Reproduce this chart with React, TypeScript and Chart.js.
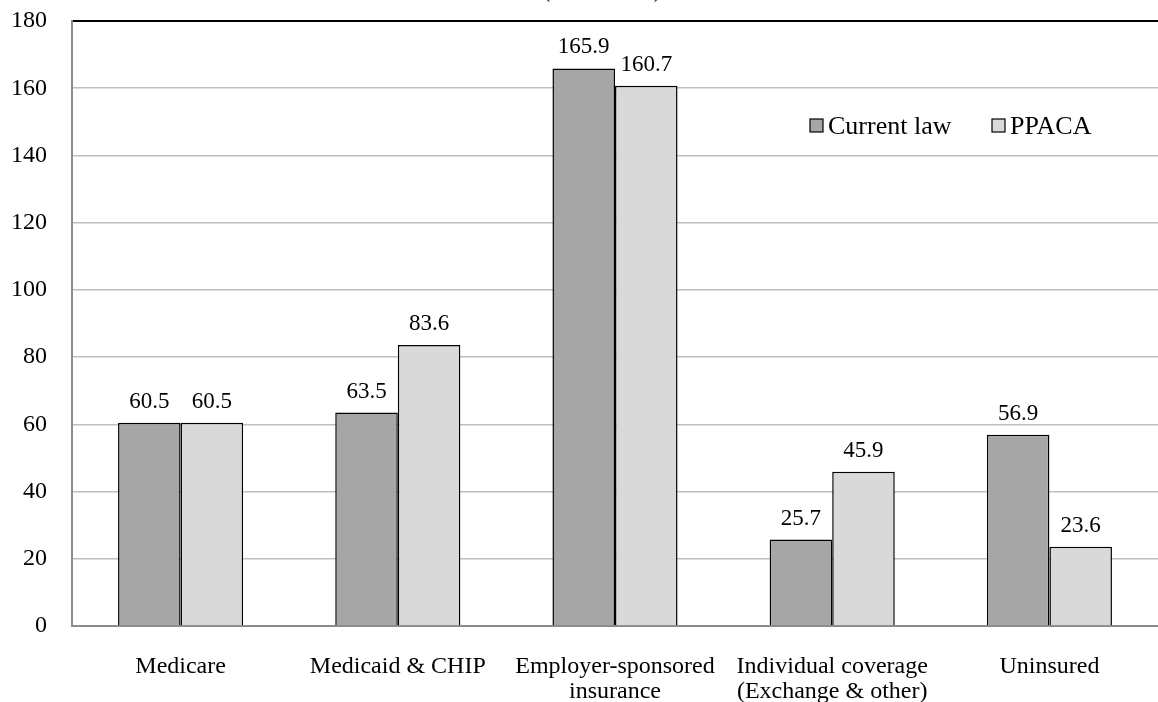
import React, { useEffect, useRef } from "react";
import { Chart, registerables } from "chart.js";

Chart.register(...registerables);

const categories: (string | string[])[] = [
  "Medicare",
  "Medicaid & CHIP",
  ["Employer-sponsored", "insurance"],
  ["Individual coverage", "(Exchange & other)"],
  "Uninsured",
];
const currentLaw = [60.5, 63.5, 165.9, 25.7, 56.9];
const ppaca = [60.5, 83.6, 160.7, 45.9, 23.6];
const seriesNames = ["Current law", "PPACA"];
const titleText = "(in millions)";

const FONT = "'Liberation Serif', 'Times New Roman', serif";

const overlayPlugin = {
  id: "overlay",
  afterDatasetsDraw(chart: any) {
    const ctx = chart.ctx as CanvasRenderingContext2D;
    ctx.save();
    // value labels
    ctx.font = `23px ${FONT}`;
    ctx.fillStyle = "#000";
    ctx.textAlign = "center";
    ctx.textBaseline = "alphabetic";
    chart.data.datasets.forEach((ds: any, i: number) => {
      const meta = chart.getDatasetMeta(i);
      meta.data.forEach((bar: any, j: number) => {
        ctx.fillText(String(ds.data[j].toFixed(1)), bar.x, bar.y - 15);
      });
    });
    // title (clipped at top)
    ctx.font = `24px ${FONT}`;
    ctx.fillText(titleText, 602, -3);
    // legend
    ctx.font = `26px ${FONT}`;
    ctx.textAlign = "left";
    ctx.textBaseline = "middle";
    const items = [
      { x: 810, color: chart.data.datasets[0].backgroundColor, label: seriesNames[0] },
      { x: 992, color: chart.data.datasets[1].backgroundColor, label: seriesNames[1] },
    ];
    items.forEach((it) => {
      ctx.fillStyle = it.color;
      ctx.fillRect(it.x, 119, 13, 13);
      ctx.strokeStyle = "#000";
      ctx.lineWidth = 1.2;
      ctx.strokeRect(it.x, 119, 13, 13);
      ctx.fillStyle = "#000";
      ctx.fillText(it.label, it.x + 18, 127);
    });
    ctx.restore();
  },
};

export default function App() {
  const ref = useRef<HTMLCanvasElement>(null);
  useEffect(() => {
    document.body.style.margin = "0";
    const chart = new Chart(ref.current!, {
      type: "bar",
      data: {
        labels: categories,
        datasets: [
          {
            label: seriesNames[0],
            data: currentLaw,
            backgroundColor: "#a6a6a6",
            borderColor: "#000",
            borderWidth: 1.5,
            categoryPercentage: 0.576,
            barPercentage: 1,
          },
          {
            label: seriesNames[1],
            data: ppaca,
            backgroundColor: "#d9d9d9",
            borderColor: "#000",
            borderWidth: 1.5,
            categoryPercentage: 0.576,
            barPercentage: 1,
          },
        ],
      },
      options: {
        animation: false,
        responsive: false,
        devicePixelRatio: 1,
        layout: { padding: { top: 21, right: 0, left: 0, bottom: 0 } },
        plugins: { legend: { display: false }, tooltip: { enabled: false } },
        scales: {
          x: {
            grid: { display: false, drawTicks: false },
            border: { display: true, color: "#8c8c8c", width: 2 },
            ticks: {
              color: "#000",
              font: { family: FONT, size: 24, lineHeight: 1.05 },
              padding: 28,
              maxRotation: 0,
              autoSkip: false,
            },
            afterFit(scale: any) {
              scale.height = 76;
              scale.paddingLeft = 0;
              scale.paddingRight = 0;
            },
          },
          y: {
            min: 0,
            max: 180,
            ticks: {
              stepSize: 20,
              color: "#000",
              font: { family: FONT, size: 24 },
              padding: 25,
            },
            grid: {
              drawTicks: false,
              color: (c: any) => (c.tick && c.tick.value === 180 ? "#000" : "#bfbfbf"),
              lineWidth: (c: any) => (c.tick && c.tick.value === 180 ? 2 : 1.5),
            },
            border: { display: true, color: "#8c8c8c", width: 2 },
            afterFit(scale: any) {
              scale.width = 72;
              scale.paddingTop = 0;
              scale.paddingBottom = 0;
            },
          },
        },
      },
      plugins: [overlayPlugin],
    });
    return () => chart.destroy();
  }, []);
  return <canvas ref={ref} width={1158} height={702} style={{ display: "block" }} />;
}
